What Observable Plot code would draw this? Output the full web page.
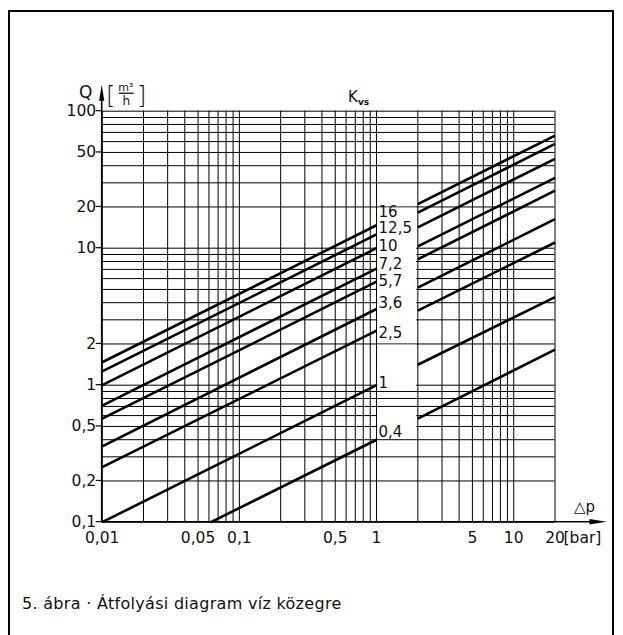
<!DOCTYPE html>
<html>
<head>
<meta charset="utf-8">
<script src="https://cdn.jsdelivr.net/npm/d3@7"></script>
<script src="https://cdn.jsdelivr.net/npm/@observablehq/plot@0.6"></script>
<style>
  html, body { margin: 0; padding: 0; background: #fff; overflow: hidden; }
  #wrap { position: relative; width: 623px; height: 635px; font-family: "DejaVu Sans", sans-serif; }
  #frame { position: absolute; left: 8px; top: 9.5px; width: 602px; height: 700px; border: 2.5px solid #000; }
  #chart { position: absolute; left: 0; top: 0; }
  #caption { position: absolute; left: 22px; top: 594px; font-size: 16px; letter-spacing: 0.3px; color: #111; white-space: nowrap; }
</style>
</head>
<body>
<div id="wrap">
  <div id="frame"></div>
  <div id="chart"></div>
  <div id="caption">5. ábra · Átfolyási diagram víz közegre</div>
</div>
<script>
// ---- data ----
const kvsLabels   = ["16", "12,5", "10", "7,2", "5,7", "3,6", "2,5", "1", "0,4"];
// left branch: from (leftStartDp, leftStartQ) to Δp = 1 bar
const leftStartDp = [0.01, 0.01, 0.01, 0.01, 0.01, 0.01, 0.01, 0.01, 0.062];
const leftStartQ  = [1.47, 1.26, 1.0, 0.71, 0.57, 0.358, 0.252, 0.1, 0.1];
const leftEndQ    = [14.7, 12.6, 10, 7.1, 5.7, 3.6, 2.5, 1.0, 0.4];
// right branch: from Δp = 2 bar to Δp = 20 bar
const rightStartQ = [21.0, 18.2, 14.2, 10.3, 8.3, 5.15, 3.5, 1.41, 0.57];
const rightEndQ   = [66.4, 57.7, 44.9, 32.6, 26.3, 16.3, 11.0, 4.4, 1.82];
// where each Kvs label sits (Q value at Δp = 1 bar)
const labelQ      = [18.4, 13.9, 10.3, 7.7, 5.75, 4.0, 2.41, 1.04, 0.456];

const dpTicks      = [0.01, 0.05, 0.1, 0.5, 1, 5, 10, 20];
const dpTickLabels = ["0,01", "0,05", "0,1", "0,5", "1", "5", "10", "20"];
const qTicks       = [0.1, 0.2, 0.5, 1, 2, 10, 20, 50, 100];
const qTickLabels  = ["0,1", "0,2", "0,5", "1", "2", "10", "20", "50", "100"];

const dpGrid = [0.01, 0.02, 0.03, 0.04, 0.05, 0.06, 0.07, 0.08, 0.09,
                0.1, 0.2, 0.3, 0.4, 0.5, 0.6, 0.7, 0.8, 0.9,
                1, 2, 3, 4, 5, 6, 7, 8, 9, 10, 20];
const qGrid  = [0.1, 0.2, 0.3, 0.4, 0.5, 0.6, 0.7, 0.8, 0.9,
                1, 2, 3, 4, 5, 6, 7, 8, 9,
                10, 20, 30, 40, 50, 60, 70, 80, 90, 100];

// blank bands between 1 and 2 bar (behind the Kvs labels)
const gapLowQ  = [2, 0.9, 0.4];
const gapHighQ = [20, 2, 0.7];

// ---- build tables ----
const segs = [];
kvsLabels.forEach((k, i) => {
  segs.push({id: k + "L", dp: leftStartDp[i], q: leftStartQ[i]});
  segs.push({id: k + "L", dp: 1, q: leftEndQ[i]});
  segs.push({id: k + "R", dp: 2, q: rightStartQ[i]});
  segs.push({id: k + "R", dp: 20, q: rightEndQ[i]});
});
const labels = kvsLabels.map((k, i) => ({text: k, q: labelQ[i]}));
const gaps = gapLowQ.map((lo, i) => ({lo, hi: gapHighQ[i]}));
const yTickRows = qTicks.map((v, i) => ({v, t: qTickLabels[i]}));
const xTickRows = dpTicks.map((v, i) => ({v, t: dpTickLabels[i]}));

const FONT = "'DejaVu Sans', sans-serif";

const decor = (index, {x, y}) => {
  const g = d3.create("svg:g").attr("font-family", FONT).attr("fill", "#111").attr("text-anchor", "start");
  const x0 = x(0.01), xE = x(20), yT = y(100), yB = y(0.1);
  // y axis with arrow
  g.append("line").attr("x1", x0).attr("x2", x0).attr("y1", yB).attr("y2", yT - 12)
    .attr("stroke", "#000").attr("stroke-width", 1.6);
  g.append("path").attr("d", `M${x0},${yT - 26}L${x0 - 2.6},${yT - 10}L${x0 + 2.6},${yT - 10}Z`).attr("fill", "#000");
  // y ticks
  qTicks.forEach(v => {
    g.append("line").attr("x1", x0 - 6).attr("x2", x0).attr("y1", y(v)).attr("y2", y(v))
      .attr("stroke", "#000").attr("stroke-width", 1.2);
  });
  // x axis with arrow
  g.append("line").attr("x1", x0).attr("x2", xE + 38).attr("y1", yB).attr("y2", yB)
    .attr("stroke", "#000").attr("stroke-width", 1.6);
  g.append("path").attr("d", `M${xE + 52},${yB}L${xE + 35},${yB - 2.8}L${xE + 35},${yB + 2.8}Z`).attr("fill", "#000");
  // Q [m3/h]
  g.append("text").attr("x", x0 - 16).attr("y", yT - 12.5).attr("text-anchor", "middle").attr("font-size", 17).text("Q");
  g.append("text").attr("x", x0 + 9).attr("y", yT - 7).attr("text-anchor", "middle").attr("font-size", 24).attr("font-weight", 300).text("[");
  g.append("text").attr("x", x0 + 40).attr("y", yT - 7).attr("text-anchor", "middle").attr("font-size", 24).attr("font-weight", 300).text("]");
  g.append("text").attr("x", x0 + 24).attr("y", yT - 20).attr("text-anchor", "middle").attr("font-size", 11).text("m³");
  g.append("line").attr("x1", x0 + 17).attr("x2", x0 + 32).attr("y1", yT - 17.5).attr("y2", yT - 17.5).attr("stroke", "#000").attr("stroke-width", 1.2);
  g.append("text").attr("x", x0 + 24.5).attr("y", yT - 6).attr("text-anchor", "middle").attr("font-size", 12).text("h");
  // Kvs
  const kx = x(1) - 28;
  const t = g.append("text").attr("x", kx).attr("y", yT - 9).attr("font-size", 15);
  t.append("tspan").text("K");
  t.append("tspan").attr("font-size", 9).attr("font-weight", 700).attr("dy", 3).text("vs");
  // Δp
  g.append("text").attr("x", xE + 30).attr("y", yB - 10).attr("text-anchor", "middle").attr("font-size", 15).text("△p");
  // [bar]
  g.append("text").attr("x", xE + 9).attr("y", yB + 21).attr("font-size", 15.5).text("[bar]");
  return g.node();
};

const chart = Plot.plot({
  width: 623,
  height: 635,
  marginLeft: 101.7,
  marginRight: 68.5,
  marginTop: 110.7,
  marginBottom: 113.3,
  style: {fontFamily: FONT, fontSize: "15.5px", color: "#111", background: "transparent"},
  x: {type: "log", domain: [0.01, 20], axis: null},
  y: {type: "log", domain: [0.1, 100], axis: null},
  marks: [
    Plot.ruleX(dpGrid, {x: d => d, y1: 0.1, y2: 100, stroke: "#000", strokeWidth: 1}),
    Plot.ruleY(qGrid, {y: d => d, x1: 0.01, x2: 20, stroke: "#000", strokeWidth: 1}),
    Plot.rect(gaps, {x1: 1, x2: 2, y1: "lo", y2: "hi", fill: "white", inset: 1.2}),
    Plot.line(segs, {x: "dp", y: "q", z: "id", stroke: "#000", strokeWidth: 2.6, strokeLinecap: "butt"}),
    Plot.text(labels, {x: 1, y: "q", text: "text", textAnchor: "start", dx: 2, fontSize: 15, fill: "#111"}),
    Plot.text(yTickRows, {y: "v", text: "t", frameAnchor: "left", textAnchor: "end", dx: -6, fontSize: 15.5, fill: "#111"}),
    Plot.text(xTickRows, {x: "v", text: "t", frameAnchor: "bottom", lineAnchor: "middle", dy: 15.5, fontSize: 15.5, fill: "#111"}),
    decor
  ]
});
document.getElementById("chart").appendChild(chart);
</script>
</body>
</html>
